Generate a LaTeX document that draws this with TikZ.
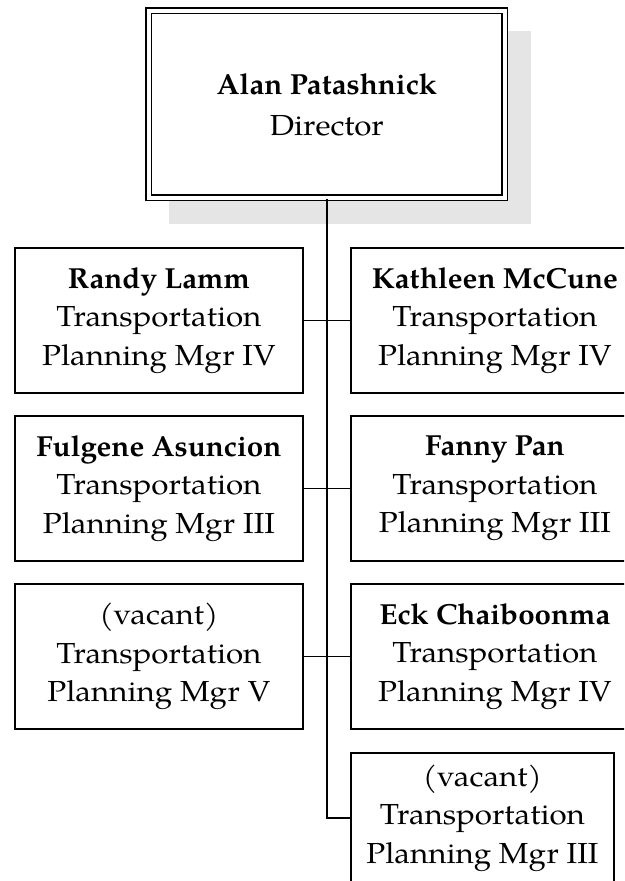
\documentclass[tikz,border=0pt]{standalone}
\usepackage{fontspec}
\setmainfont{TeX Gyre Pagella}[UprightFeatures={FakeStretch=1.08},BoldFeatures={FakeStretch=1.02}]
\begin{document}
\begin{tikzpicture}[x=1pt,y=-1pt,
  pbox/.style={draw, line width=1.8pt, rectangle, inner sep=0pt, align=center,
    minimum width=288pt, minimum height=145pt, anchor=north west,
    font=\fontsize{29}{38.5}\selectfont},
  topbox/.style={draw, double, line width=1.7pt, double distance=3.4pt, fill=white,
    rectangle, inner sep=0pt, align=center, minimum width=356pt, minimum height=187pt,
    anchor=north west, font=\fontsize{29}{41}\selectfont},
  link/.style={line width=1.8pt}]
\useasboundingbox (0,0) rectangle (624,881);
\clip (0,0) rectangle (624,881);
\fill[black!10] (169,31) rectangle (531,224);
\node[topbox] (dir) at (148,10) {\textbf{Alan Patashnick}\\Director};
\node[pbox] (l1) at (14,247) {\textbf{Randy Lamm}\\Transportation\\Planning Mgr IV};
\node[pbox] (r1) at (350,247) {\textbf{Kathleen McCune}\\Transportation\\Planning Mgr IV};
\node[pbox] (l2) at (14,415) {\textbf{Fulgene Asuncion}\\Transportation\\Planning Mgr III};
\node[pbox] (r2) at (350,415) {\textbf{Fanny Pan}\\Transportation\\Planning Mgr III};
\node[pbox] (l3) at (14,583) {(vacant)\\Transportation\\Planning Mgr V};
\node[pbox] (r3) at (350,583) {\textbf{Eck Chaiboonma}\\Transportation\\Planning Mgr IV};
\node[pbox, minimum width=263pt, minimum height=130pt] (r4) at (350,752) {(vacant)\\Transportation\\Planning Mgr III};
\coordinate (turn) at (dir.south |- r4.west);
\draw[link] (dir.south) -- (turn) -- (r4.west);
\draw[link] (l1.east) -- (r1.west);
\draw[link] (l2.east) -- (r2.west);
\draw[link] (l3.east) -- (r3.west);
\end{tikzpicture}
\end{document}
